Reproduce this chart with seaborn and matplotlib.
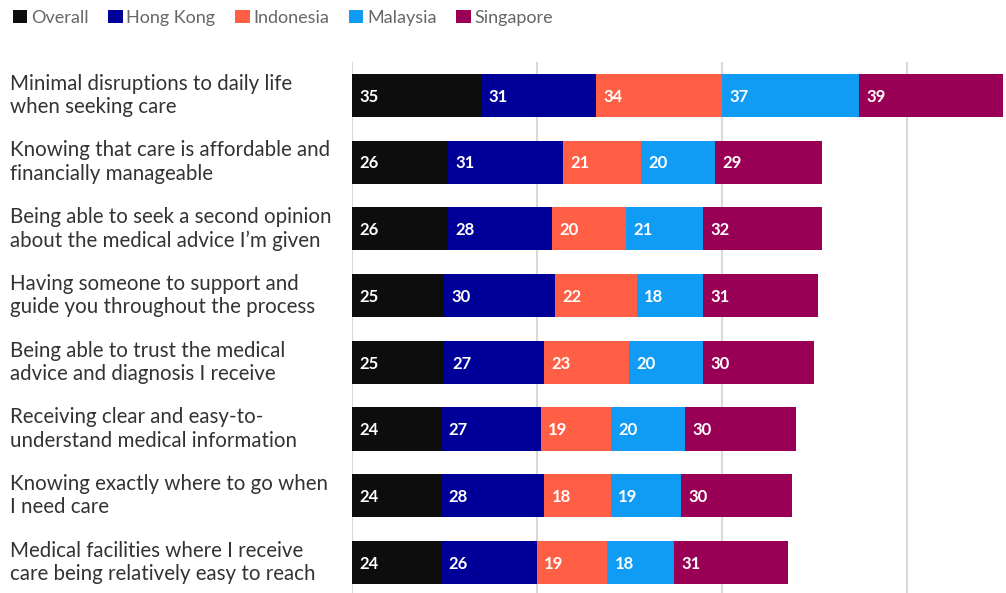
import matplotlib
matplotlib.use("Agg")
import matplotlib.pyplot as plt
import seaborn as sns
import pandas as pd
import numpy as np
from matplotlib.patches import Patch
from matplotlib.transforms import blended_transform_factory

categories = [
    "Minimal disruptions to daily life\nwhen seeking care",
    "Knowing that care is affordable and\nfinancially manageable",
    "Being able to seek a second opinion\nabout the medical advice I\u2019m given",
    "Having someone to support and\nguide you throughout the process",
    "Being able to trust the medical\nadvice and diagnosis I receive",
    "Receiving clear and easy-to-\nunderstand medical information",
    "Knowing exactly where to go when\nI need care",
    "Medical facilities where I receive\ncare being relatively easy to reach",
]
series_names = ["Overall", "Hong Kong", "Indonesia", "Malaysia", "Singapore"]
overall = [35, 26, 26, 25, 25, 24, 24, 24]
hong_kong = [31, 31, 28, 30, 27, 27, 28, 26]
indonesia = [34, 21, 20, 22, 23, 19, 18, 19]
malaysia = [37, 20, 21, 18, 20, 20, 19, 18]
singapore = [39, 29, 32, 31, 30, 30, 30, 31]
colors = ["#0d0d0d", "#000099", "#ff5f45", "#109cf4", "#990055"]

sns.set_theme(style="white")
plt.rcParams["font.family"] = ["Lato", "DejaVu Sans"]

df = pd.DataFrame({"cat": categories, "Overall": overall, "Hong Kong": hong_kong,
                   "Indonesia": indonesia, "Malaysia": malaysia, "Singapore": singapore})
cum = df[series_names].cumsum(axis=1)

fig = plt.figure(figsize=(10.06, 5.93), dpi=100)
ax = fig.add_axes([352/1006, 0, 654/1006, (593-62)/593])

for i in range(len(series_names) - 1, -1, -1):
    name = series_names[i]
    sns.barplot(x=cum[name], y=df["cat"], color=colors[i], orient="h", ax=ax,
                width=0.645, saturation=1, linewidth=0, order=categories)

for i, name in enumerate(series_names):
    lefts = cum[name] - df[name]
    for j in range(len(categories)):
        ax.text(lefts[j] + 2.0, j + 0.02, str(df[name][j]), color="white", fontsize=12,
                fontweight="bold", va="center", ha="left")

ax.set_xlim(0, 176.8)
ax.set_ylim(7.458, -0.5)
ax.set_xticks([0, 50, 100, 150])
ax.xaxis.grid(True, color="#d9d9d9", linewidth=1.5)
ax.set_axisbelow(True)
ax.tick_params(axis="x", labelbottom=False, length=0)
ax.set_yticks(range(len(categories)))
ax.set_yticklabels([])
ax.tick_params(axis="y", length=0)
ax.set_xlabel("")
ax.set_ylabel("")
for s in ax.spines.values():
    s.set_visible(False)

trans = blended_transform_factory(fig.transFigure, ax.transData)
for j, c in enumerate(categories):
    ax.text(10/1006, j, c, transform=trans,
            ha="left", va="center", fontsize=14.8, color="#333333", linespacing=1.22)

handles = [Patch(facecolor=c, edgecolor="none") for c in colors]
fig.legend(handles, series_names, loc="upper left", bbox_to_anchor=(0.0, 1.005), ncol=5,
           frameon=False, fontsize=13, handlelength=0.8, handleheight=0.8,
           handletextpad=0.2, columnspacing=1.1, labelcolor="#666666", borderaxespad=0.3)

fig.savefig("out.png", dpi=100)
